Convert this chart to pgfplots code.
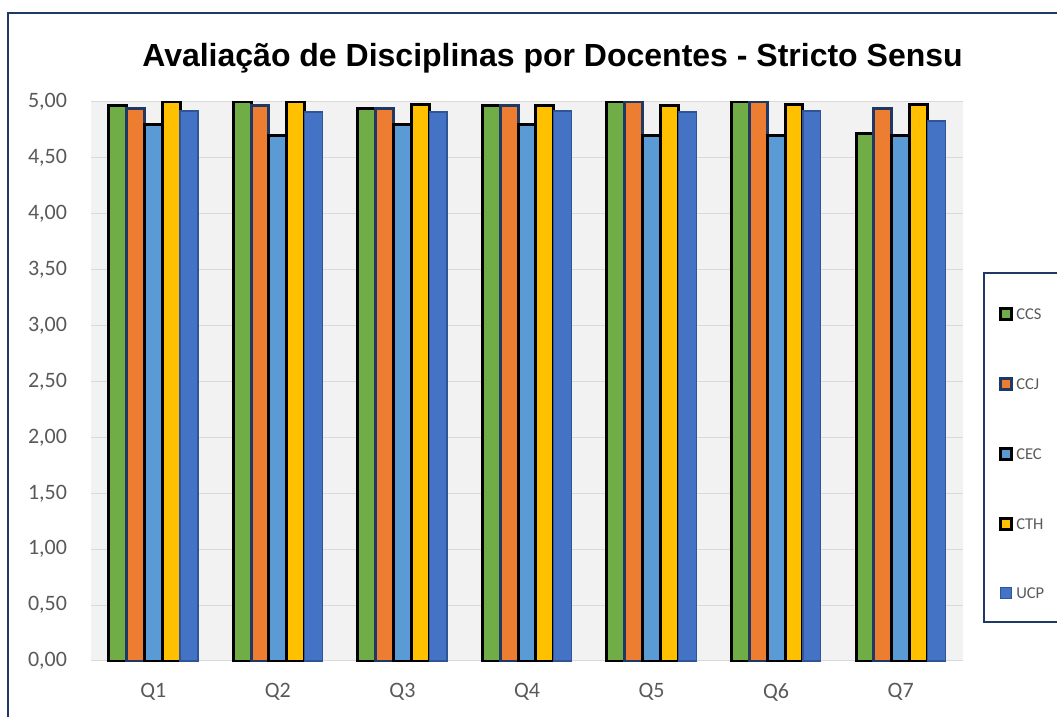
\documentclass[border=0pt]{standalone}
\usepackage{fontspec}
\setmainfont{Carlito}
\newfontfamily\titlefont{Liberation Sans}
\usepackage{pgfplots}
\usepackage{pgfplotstable}
\pgfplotsset{compat=1.18}
\definecolor{cgreen}{HTML}{70AD47}
\definecolor{corange}{HTML}{ED7D31}
\definecolor{clblue}{HTML}{5B9BD5}
\definecolor{cgold}{HTML}{FFC000}
\definecolor{cblue}{HTML}{4472C4}
\definecolor{navy}{HTML}{1F3864}
\definecolor{ucpedge}{HTML}{2F5597}
\definecolor{bggray}{HTML}{F2F2F2}
\definecolor{gridgray}{HTML}{D9D9D9}
\definecolor{tickgray}{HTML}{595959}

\pgfplotstableread{
x CCS CCJ CEC CTH UCP
0 4.97 4.94 4.80 5.00 4.92
1 5.00 4.97 4.70 5.00 4.91
2 4.94 4.94 4.80 4.98 4.91
3 4.97 4.97 4.80 4.97 4.92
4 5.00 5.00 4.70 4.97 4.91
5 5.00 5.00 4.70 4.98 4.92
6 4.72 4.94 4.70 4.98 4.83
}\datatable

\begin{document}
\begin{tikzpicture}
\path[use as bounding box] (0,0) rectangle (792.75pt,537.75pt);
\draw[navy, line width=1.5pt] (6.2pt,527.8pt) rectangle (840pt,-30pt);
\node[anchor=base, inner sep=0pt, font=\titlefont\bfseries\fontsize{24}{29}\selectfont] at (414.4pt,487.5pt) {Avaliação de Disciplinas por Docentes - Stricto Sensu};
\draw[navy, line width=1.2pt] (738pt,333pt) rectangle (840pt,71.25pt);
\begin{axis}[
  at={(68.25pt,42pt)}, anchor=south west,
  scale only axis, width=654pt, height=419.25pt,
  xmin=-0.5, xmax=6.5, ymin=0, ymax=5,
  xtick={0,1,2,3,4,5,6},
  xticklabels={Q1,Q2,Q3,Q4,Q5,Q6,Q7},
  ytick={0,0.5,1,1.5,2,2.5,3,3.5,4,4.5,5},
  ybar=0pt, bar width=13.4pt,
  every axis plot post/.append style={
    legend image code/.code={\draw[##1] (0pt,-4.125pt) rectangle (8.25pt,4.125pt);}
  },
  ymajorgrids,
  grid style={color=gridgray, line width=0.75pt},
  axis background/.style={fill=bggray},
  axis line style={draw=none},
  major tick length=0pt,
  tick label style={font=\fontsize{16.5}{18}\selectfont, text=tickgray},
  yticklabel style={inner sep=0pt, xshift=-17.8pt,
    /pgf/number format/fixed, /pgf/number format/fixed zerofill,
    /pgf/number format/precision=2, /pgf/number format/use comma,
    /pgf/number format/assume math mode=true},
  xticklabel style={inner sep=0pt, yshift=-16.5pt},
  clip=false,
  legend style={draw=none, fill=none, at={(1.0410,0.3720)}, anchor=west,
    inner sep=0pt, row sep=42pt, column sep=2.5pt,
    font=\fontsize{12.4}{14}\selectfont, text=tickgray,
    nodes={inner sep=0pt, text height=8pt, text depth=0pt}},
  legend cell align=left,
]
\addplot[fill=cgreen, draw=black, line width=2.2pt] table[x=x,y=CCS]{\datatable};
\addplot[fill=corange, draw=navy, line width=2.2pt] table[x=x,y=CCJ]{\datatable};
\addplot[fill=clblue, draw=black, line width=2.2pt] table[x=x,y=CEC]{\datatable};
\addplot[fill=cgold, draw=black, line width=2.2pt] table[x=x,y=CTH]{\datatable};
\addplot[fill=cblue, draw=ucpedge, line width=0.9pt] table[x=x,y=UCP]{\datatable};
\legend{CCS,CCJ,CEC,CTH,UCP}
\end{axis}
\end{tikzpicture}
\end{document}
